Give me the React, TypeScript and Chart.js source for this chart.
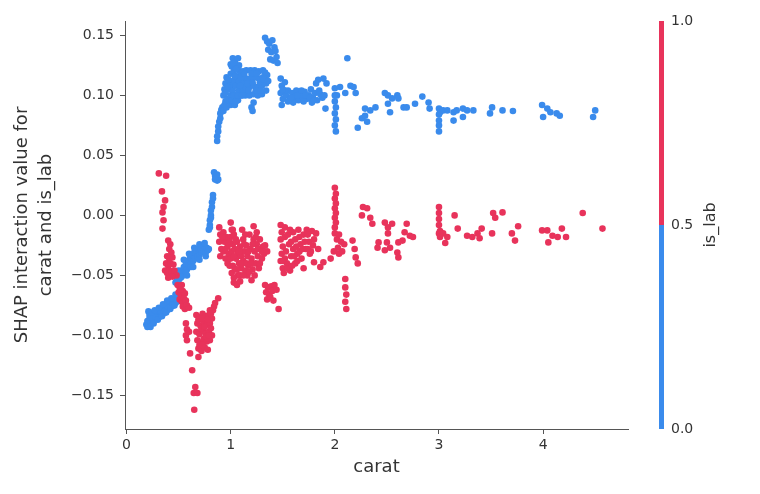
import React, { useRef, useEffect } from "react";
import { Chart, registerables } from "chart.js";

Chart.register(...registerables);

// is_lab = 0 (blue), [carat, SHAP interaction value]
const blueLowBand: number[][] = [
  [0.19, -0.091], [0.2, -0.088], [0.21, -0.092], [0.22, -0.086], [0.23, -0.09], [0.24, -0.084],
  [0.25, -0.089], [0.26, -0.083], [0.27, -0.087], [0.28, -0.082], [0.29, -0.086], [0.3, -0.08],
  [0.31, -0.085], [0.32, -0.079], [0.33, -0.083], [0.34, -0.078], [0.35, -0.082], [0.36, -0.077],
  [0.37, -0.08], [0.38, -0.075], [0.39, -0.079], [0.4, -0.074], [0.41, -0.077], [0.42, -0.073],
  [0.43, -0.076], [0.44, -0.072], [0.45, -0.075], [0.46, -0.07], [0.47, -0.073], [0.48, -0.069],
  [0.49, -0.071], [0.5, -0.067], [0.21, -0.08], [0.22, -0.083], [0.25, -0.086], [0.28, -0.085],
  [0.33, -0.08], [0.36, -0.08], [0.4, -0.077], [0.44, -0.074], [0.48, -0.072],
  [0.2, -0.093], [0.23, -0.093], [0.26, -0.09], [0.3, -0.087], [0.34, -0.084], [0.38, -0.081],
  [0.42, -0.078], [0.46, -0.075], [0.24, -0.081], [0.27, -0.079], [0.31, -0.077], [0.35, -0.074],
  [0.39, -0.071], [0.43, -0.069], [0.47, -0.066],
];

const blueMidBand: number[][] = [
  [0.47, -0.056], [0.48, -0.052], [0.5, -0.054], [0.51, -0.049], [0.52, -0.052], [0.53, -0.046],
  [0.54, -0.049], [0.55, -0.043], [0.56, -0.047], [0.57, -0.04], [0.58, -0.045], [0.59, -0.038],
  [0.6, -0.042], [0.61, -0.035], [0.62, -0.04], [0.63, -0.033], [0.64, -0.038], [0.65, -0.031],
  [0.66, -0.036], [0.67, -0.03], [0.68, -0.034], [0.69, -0.028], [0.7, -0.033], [0.71, -0.028],
  [0.72, -0.031], [0.73, -0.027], [0.74, -0.03], [0.75, -0.026], [0.76, -0.031], [0.77, -0.027],
  [0.78, -0.029], [0.79, -0.028], [0.49, -0.057], [0.53, -0.051], [0.57, -0.048], [0.62, -0.043],
  [0.5, -0.046], [0.55, -0.037], [0.6, -0.032], [0.65, -0.027], [0.7, -0.024], [0.75, -0.023],
  [0.52, -0.058], [0.58, -0.05], [0.64, -0.043], [0.7, -0.037], [0.76, -0.034],
  // streak and blob near 0.8 carat
  [0.79, -0.012], [0.8, -0.008], [0.8, -0.004], [0.81, 0.0], [0.81, 0.004], [0.82, 0.007],
  [0.82, 0.011], [0.83, 0.014], [0.83, 0.017], [0.8, -0.01], [0.81, -0.002],
  [0.84, 0.036], [0.85, 0.033], [0.86, 0.031], [0.87, 0.029], [0.88, 0.03], [0.85, 0.03], [0.87, 0.034],
];

const blueHighOne: number[][] = [
  [0.87, 0.062], [0.87, 0.066], [0.88, 0.07], [0.88, 0.074], [0.89, 0.078], [0.9, 0.081],
  [0.9, 0.085], [0.91, 0.088], [0.92, 0.09], [0.93, 0.087], [0.94, 0.092], [0.95, 0.095],
  [0.93, 0.1], [0.94, 0.105], [0.95, 0.11], [0.96, 0.115], [0.97, 0.097], [0.98, 0.105],
  [0.99, 0.112], [0.96, 0.09], [0.99, 0.095], [1.0, 0.118],
  [1.0, 0.092], [1.0, 0.1], [1.0, 0.108], [1.01, 0.124], [1.02, 0.131], [1.02, 0.096],
  [1.02, 0.104], [1.03, 0.112], [1.03, 0.12], [1.04, 0.128], [1.04, 0.092], [1.05, 0.1],
  [1.05, 0.108], [1.06, 0.116], [1.06, 0.124], [1.07, 0.131], [1.07, 0.096], [1.08, 0.104],
  [1.08, 0.112], [1.09, 0.12], [1.1, 0.1], [1.1, 0.108], [1.11, 0.116], [1.12, 0.104],
  [1.12, 0.112], [1.12, 0.12],
  [1.14, 0.1], [1.14, 0.107], [1.15, 0.114], [1.15, 0.121], [1.18, 0.1], [1.18, 0.107],
  [1.19, 0.114], [1.19, 0.121], [1.22, 0.101], [1.22, 0.108], [1.23, 0.115], [1.23, 0.121],
  [1.26, 0.1], [1.26, 0.107], [1.27, 0.114], [1.27, 0.12], [1.3, 0.101], [1.3, 0.108],
  [1.31, 0.115], [1.31, 0.121], [1.34, 0.104], [1.34, 0.11], [1.35, 0.117],
  [1.01, 0.096], [1.03, 0.1], [1.05, 0.095], [1.07, 0.1], [1.09, 0.108], [1.11, 0.1],
  [1.04, 0.116], [1.08, 0.125], [1.1, 0.115], [1.13, 0.118], [1.16, 0.11], [1.17, 0.104],
  [1.2, 0.118], [1.21, 0.111], [1.24, 0.104], [1.25, 0.118], [1.28, 0.111], [1.29, 0.104],
  [1.32, 0.113], [1.33, 0.119], [1.36, 0.112], [0.97, 0.107], [0.95, 0.102], [0.98, 0.113],
  [1.0, 0.126], [1.03, 0.127], [1.05, 0.122],
  [1.2, 0.09], [1.22, 0.094], [1.21, 0.087],
  [1.33, 0.148], [1.35, 0.145], [1.37, 0.143], [1.4, 0.146], [1.36, 0.138], [1.39, 0.136],
  [1.42, 0.14], [1.38, 0.13], [1.41, 0.129], [1.44, 0.132], [1.45, 0.127], [1.43, 0.137],
];

const blueHighTail: number[][] = [
  [1.48, 0.114], [1.49, 0.108], [1.48, 0.102], [1.5, 0.097], [1.49, 0.092], [1.52, 0.111],
  [1.53, 0.1], [1.55, 0.104], [1.57, 0.097], [1.59, 0.102], [1.61, 0.098], [1.63, 0.104],
  [1.65, 0.096], [1.67, 0.101], [1.69, 0.099], [1.71, 0.103], [1.73, 0.097], [1.75, 0.1],
  [1.77, 0.105], [1.79, 0.098], [1.81, 0.102], [1.83, 0.096], [1.84, 0.113], [1.82, 0.11],
  [1.86, 0.101], [1.88, 0.098], [1.89, 0.114], [1.92, 0.11], [1.9, 0.1], [1.91, 0.089],
  [1.6, 0.094], [1.7, 0.095], [1.55, 0.095], [1.78, 0.094],
  [1.52, 0.104], [1.58, 0.098], [1.64, 0.1], [1.68, 0.104], [1.72, 0.1], [1.76, 0.098],
  [1.8, 0.096], [1.85, 0.104], [1.5, 0.105],
  [2.0, 0.106], [2.0, 0.1], [2.0, 0.095], [2.01, 0.09], [2.0, 0.085], [2.01, 0.08],
  [2.0, 0.075], [2.01, 0.07], [2.02, 0.1],
  [2.05, 0.107], [2.1, 0.102], [2.15, 0.108], [2.18, 0.107], [2.2, 0.102], [2.12, 0.131],
  [2.22, 0.073], [2.26, 0.081], [2.29, 0.083], [2.31, 0.078], [2.34, 0.0875], [2.39, 0.09],
  [2.29, 0.089],
  [2.48, 0.102], [2.51, 0.1], [2.55, 0.0975], [2.6, 0.1], [2.61, 0.0975], [2.51, 0.093],
  [2.53, 0.086], [2.66, 0.09], [2.69, 0.09], [2.77, 0.093], [2.84, 0.099], [2.9, 0.094],
  [2.91, 0.089],
  [3.0, 0.089], [3.0, 0.084], [3.0, 0.079], [3.0, 0.075], [3.0, 0.07], [3.01, 0.086],
  [3.04, 0.0875], [3.08, 0.0875], [3.14, 0.086], [3.17, 0.0875], [3.23, 0.089], [3.27, 0.0875],
  [3.33, 0.0875], [3.14, 0.079], [3.23, 0.082],
  [3.51, 0.09], [3.49, 0.085], [3.61, 0.0875], [3.71, 0.087],
  [3.99, 0.092], [4.04, 0.089], [4.07, 0.086], [4.13, 0.085], [4.16, 0.083], [4.0, 0.082],
  [4.5, 0.0875], [4.48, 0.082],
];

// is_lab = 1 (red)
const redSmall: number[][] = [
  [0.31, 0.035], [0.38, 0.033], [0.34, 0.02], [0.37, 0.0125], [0.355, 0.007], [0.345, 0.0025],
  [0.355, -0.004], [0.345, -0.011],
  [0.4, -0.021], [0.42, -0.024], [0.41, -0.028], [0.43, -0.031], [0.39, -0.034], [0.41, -0.036],
  [0.44, -0.035], [0.38, -0.04], [0.4, -0.042], [0.42, -0.04], [0.45, -0.041], [0.37, -0.046],
  [0.39, -0.048], [0.41, -0.046], [0.43, -0.047], [0.46, -0.046], [0.48, -0.05], [0.4, -0.052],
  [0.44, -0.051],
  [0.49, -0.058], [0.51, -0.06], [0.53, -0.058], [0.5, -0.064], [0.52, -0.066], [0.54, -0.063],
  [0.56, -0.065], [0.51, -0.07], [0.53, -0.072], [0.55, -0.069], [0.57, -0.071], [0.54, -0.076],
  [0.56, -0.078], [0.58, -0.075], [0.6, -0.077], [0.52, -0.062],
  [0.57, -0.09], [0.58, -0.095], [0.57, -0.1], [0.58, -0.104], [0.6, -0.097],
  [0.67, -0.083], [0.7, -0.085], [0.73, -0.082], [0.76, -0.084], [0.79, -0.083], [0.82, -0.086],
  [0.68, -0.09], [0.71, -0.092], [0.74, -0.089], [0.77, -0.091], [0.8, -0.09],
  [0.67, -0.097], [0.7, -0.099], [0.73, -0.096], [0.76, -0.098], [0.79, -0.097], [0.82, -0.1],
  [0.68, -0.104], [0.71, -0.106], [0.74, -0.103], [0.77, -0.105], [0.8, -0.104],
  [0.69, -0.111], [0.72, -0.113], [0.75, -0.11], [0.78, -0.112],
  [0.69, -0.087], [0.72, -0.094], [0.75, -0.093], [0.78, -0.087], [0.81, -0.094], [0.7, -0.108],
  [0.73, -0.108], [0.76, -0.101], [0.79, -0.1], [0.72, -0.086], [0.8, -0.079], [0.84, -0.076],
  [0.88, -0.069], [0.85, -0.073], [0.83, -0.079], [0.81, -0.082],
  [0.61, -0.115], [0.69, -0.118], [0.63, -0.129], [0.66, -0.143], [0.645, -0.148], [0.68, -0.148],
  [0.65, -0.162],
];

const redOne: number[][] = [
  [0.89, -0.01], [0.9, -0.016], [0.89, -0.022], [0.91, -0.028], [0.9, -0.034], [0.93, -0.014],
  [0.94, -0.022], [0.93, -0.03], [0.95, -0.036], [0.96, -0.018], [0.97, -0.026], [0.98, -0.032],
  [0.97, -0.04],
  [1.0, -0.006], [1.01, -0.012], [1.0, -0.018], [1.02, -0.024], [1.01, -0.03], [1.0, -0.036],
  [1.02, -0.042], [1.01, -0.048], [1.03, -0.016], [1.04, -0.028], [1.05, -0.036], [1.04, -0.045],
  [1.06, -0.022], [1.07, -0.032], [1.08, -0.04], [1.07, -0.05], [1.09, -0.026], [1.1, -0.034],
  [1.1, -0.044], [1.03, -0.052],
  [1.12, -0.02], [1.13, -0.03], [1.12, -0.038], [1.14, -0.046], [1.15, -0.025], [1.16, -0.034],
  [1.17, -0.042], [1.18, -0.016], [1.19, -0.028], [1.2, -0.036], [1.21, -0.045], [1.22, -0.009],
  [1.22, -0.02], [1.23, -0.03], [1.24, -0.04], [1.25, -0.024], [1.26, -0.034], [1.27, -0.044],
  [1.28, -0.02], [1.29, -0.028], [1.3, -0.036], [1.31, -0.026], [1.32, -0.032], [1.16, -0.05],
  [1.2, -0.054], [1.11, -0.012], [1.25, -0.014],
  [0.92, -0.018], [0.95, -0.028], [0.99, -0.022], [1.03, -0.034], [1.05, -0.02], [1.08, -0.03],
  [1.11, -0.04], [1.13, -0.024], [1.15, -0.04], [1.17, -0.03], [1.19, -0.04], [1.21, -0.024],
  [1.23, -0.05], [1.26, -0.028], [1.28, -0.04], [1.3, -0.03], [1.06, -0.045], [1.09, -0.05],
  [1.12, -0.05], [1.24, -0.018], [1.14, -0.016], [1.33, -0.025], [1.35, -0.03], [1.18, -0.047],
  [0.99, -0.042], [1.02, -0.012],
  [1.03, -0.056], [1.06, -0.058], [1.09, -0.055],
  [1.33, -0.058], [1.36, -0.06], [1.39, -0.059], [1.42, -0.058], [1.34, -0.064], [1.37, -0.066],
  [1.4, -0.063], [1.44, -0.062], [1.35, -0.07], [1.38, -0.068], [1.41, -0.071], [1.46, -0.078],
];

const redTail: number[][] = [
  [1.48, -0.008], [1.49, -0.014], [1.48, -0.02], [1.5, -0.026], [1.49, -0.032], [1.48, -0.038],
  [1.5, -0.044], [1.52, -0.018], [1.53, -0.03], [1.54, -0.04], [1.56, -0.024], [1.58, -0.034],
  [1.6, -0.014], [1.6, -0.028], [1.62, -0.02], [1.64, -0.032], [1.65, -0.012], [1.67, -0.024],
  [1.68, -0.036], [1.7, -0.016], [1.72, -0.028], [1.73, -0.012], [1.75, -0.022], [1.76, -0.032],
  [1.78, -0.013], [1.8, -0.02], [1.82, -0.015], [1.57, -0.046], [1.62, -0.04], [1.51, -0.048],
  [1.77, -0.03], [1.8, -0.039], [1.86, -0.043], [1.89, -0.039], [1.96, -0.036], [2.04, -0.032],
  [1.7, -0.044], [1.84, -0.028],
  [1.52, -0.01], [1.55, -0.016], [1.57, -0.012], [1.58, -0.022], [1.61, -0.034], [1.63, -0.026],
  [1.66, -0.018], [1.66, -0.03], [1.69, -0.028], [1.71, -0.022], [1.74, -0.016], [1.74, -0.028],
  [1.79, -0.025], [1.52, -0.036], [1.55, -0.044], [1.59, -0.042], [1.64, -0.038], [1.5, -0.038],
  [2.0, 0.023], [2.01, 0.018], [2.0, 0.014], [2.01, 0.01], [2.0, 0.006], [2.01, 0.002],
  [2.0, -0.002], [2.01, -0.006], [2.0, -0.01],
  [2.0, -0.015], [2.02, -0.02], [2.04, -0.016], [2.06, -0.022], [2.03, -0.027], [2.07, -0.03],
  [2.09, -0.024], [1.99, -0.03],
  [2.1, -0.053], [2.1, -0.06], [2.11, -0.066], [2.1, -0.072], [2.11, -0.078],
  [2.17, -0.021], [2.19, -0.028], [2.2, -0.035], [2.22, -0.04],
  [2.27, 0.007], [2.31, 0.006], [2.26, 0.0], [2.34, -0.002], [2.36, -0.007],
  [2.48, -0.006], [2.51, -0.01], [2.55, -0.007], [2.51, -0.015], [2.5, -0.0225], [2.41, -0.027],
  [2.42, -0.0225], [2.48, -0.029], [2.53, -0.027], [2.6, -0.031], [2.61, -0.0225], [2.65, -0.021],
  [2.69, -0.007], [2.67, -0.014], [2.72, -0.017], [2.75, -0.018], [2.61, -0.035],
  [3.0, 0.007], [3.0, 0.002], [3.0, -0.003], [3.0, -0.008], [3.01, -0.013], [3.0, -0.015],
  [3.01, -0.018], [3.06, -0.023], [3.04, -0.015], [3.08, -0.018], [3.15, 0.0], [3.18, -0.011],
  [3.27, -0.017], [3.32, -0.018], [3.37, -0.015], [3.41, -0.011], [3.39, -0.019], [3.51, -0.015],
  [3.52, 0.002], [3.54, -0.002], [3.61, 0.0025], [3.7, -0.015], [3.73, -0.021], [3.76, -0.009],
  [3.99, -0.0125], [4.04, -0.0125], [4.05, -0.0225], [4.09, -0.017], [4.14, -0.018], [4.18, -0.011],
  [4.22, -0.018], [4.38, 0.002], [4.57, -0.011],
];

const xTicks = [0, 1, 2, 3, 4];
const yTicks = [-0.15, -0.1, -0.05, 0, 0.05, 0.1, 0.15];
const yTickLabels = ["\u22120.15", "\u22120.10", "\u22120.05", "0.00", "0.05", "0.10", "0.15"];
const colorbarTicks = [0, 0.5, 1];
const colorbarTickLabels = ["0.0", "0.5", "1.0"];

const RED = "#e8335b";
const BLUE = "#3a8bec";
const TEXT = "#333333";
const AXIS = "#555555";
const FONT = "'DejaVu Sans', sans-serif";

const toXY = (pts: number[][]) => pts.map(([x, y]) => ({ x, y }));

const colorbarPlugin = {
  id: "colorbar",
  afterDraw(chart: any) {
    const { ctx, chartArea } = chart;
    const { top, bottom } = chartArea;
    const x0 = chartArea.right + 31;
    const w = 5;
    const yOf = (v: number) => bottom - (bottom - top) * v;
    ctx.save();
    ctx.fillStyle = RED;
    ctx.fillRect(x0, top, w, yOf(0.5) - top);
    ctx.fillStyle = BLUE;
    ctx.fillRect(x0, yOf(0.5), w, bottom - yOf(0.5));
    ctx.fillStyle = TEXT;
    ctx.font = `14px ${FONT}`;
    ctx.textAlign = "left";
    ctx.textBaseline = "middle";
    colorbarTicks.forEach((v, i) => ctx.fillText(colorbarTickLabels[i], x0 + w + 7, yOf(v)));
    ctx.translate(x0 + 52, (top + bottom) / 2);
    ctx.rotate(-Math.PI / 2);
    ctx.textAlign = "center";
    ctx.font = `16px ${FONT}`;
    ctx.fillText("is_lab", 0, 0);
    ctx.restore();
  },
};

const ShapDependence = () => {
  const canvasRef = useRef<HTMLCanvasElement>(null);
  const chartRef = useRef<Chart | null>(null);

  useEffect(() => {
    if (!canvasRef.current) return;
    chartRef.current = new Chart(canvasRef.current, {
      type: "scatter",
      data: {
        datasets: [
          {
            label: "is_lab = 1",
            data: toXY([...redSmall, ...redOne, ...redTail]),
            backgroundColor: RED,
            pointRadius: 3.3,
            pointHoverRadius: 3.3,
            borderWidth: 0,
            order: 0,
          },
          {
            label: "is_lab = 0",
            data: toXY([...blueLowBand, ...blueMidBand, ...blueHighOne, ...blueHighTail]),
            backgroundColor: BLUE,
            pointRadius: 3.3,
            pointHoverRadius: 3.3,
            borderWidth: 0,
            order: 1,
          },
        ],
      },
      options: {
        responsive: true,
        maintainAspectRatio: false,
        animation: false,
        events: [],
        layout: { padding: { top: 21, right: 132, left: 0, bottom: 0 } },
        plugins: { legend: { display: false }, tooltip: { enabled: false } },
        scales: {
          x: {
            type: "linear",
            min: -0.015,
            max: 4.815,
            afterBuildTicks: (s: any) => {
              s.ticks = xTicks.map((value) => ({ value }));
            },
            afterFit: (s: any) => {
              s.height = 65;
            },
            ticks: {
              color: TEXT,
              font: { family: FONT, size: 14 },
              padding: 3,
              maxRotation: 0,
              callback: (v: any) => String(v),
            },
            grid: { drawOnChartArea: false, drawTicks: true, tickLength: 5, color: AXIS },
            border: { display: true, color: AXIS, width: 1 },
            title: {
              display: true,
              text: "carat",
              color: TEXT,
              font: { family: FONT, size: 18, lineHeight: 1.2 },
              padding: { top: 0, bottom: 16 },
            },
          },
          y: {
            type: "linear",
            min: -0.178,
            max: 0.162,
            afterBuildTicks: (s: any) => {
              s.ticks = yTicks.map((value) => ({ value }));
            },
            afterFit: (s: any) => {
              s.width = 125;
            },
            ticks: {
              color: TEXT,
              font: { family: FONT, size: 14 },
              padding: 6,
              callback: (v: any) => {
                const i = yTicks.findIndex((t) => Math.abs(t - v) < 1e-9);
                return i >= 0 ? yTickLabels[i] : "";
              },
            },
            grid: { drawOnChartArea: false, drawTicks: true, tickLength: 5, color: AXIS },
            border: { display: true, color: AXIS, width: 1 },
            title: {
              display: true,
              text: ["SHAP interaction value for", "carat and is_lab"],
              color: TEXT,
              font: { family: FONT, size: 18, lineHeight: 1.3 },
              padding: { top: 11, bottom: 0 },
            },
          },
        },
      },
      plugins: [colorbarPlugin],
    });
    return () => {
      chartRef.current?.destroy();
    };
  }, []);

  return (
    <div style={{ position: "fixed", left: 0, top: 0, width: 760, height: 494, background: "#fff" }}>
      <canvas ref={canvasRef} />
    </div>
  );
};

export default function App() {
  return <ShapDependence />;
}
